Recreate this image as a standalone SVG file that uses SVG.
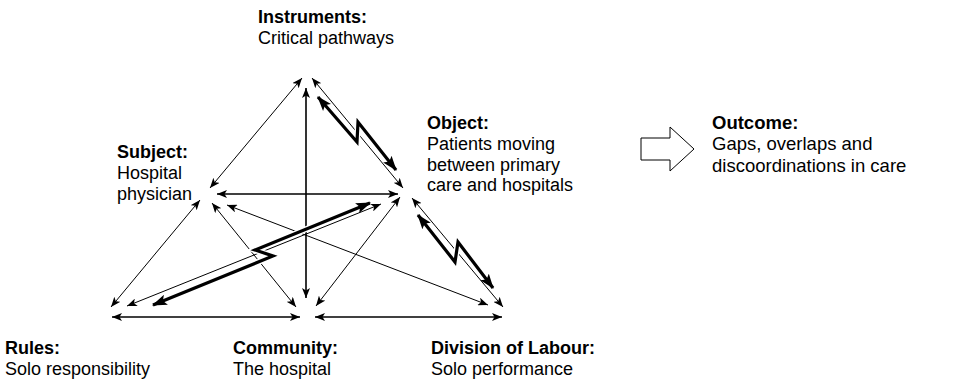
<svg xmlns="http://www.w3.org/2000/svg" width="957" height="384" viewBox="0 0 957 384">
  <style>
    text { font-family: "Liberation Sans", Arial, Helvetica, sans-serif; font-size: 18px; fill: #000; }
    .head { font-weight: bold; }
    .big { font-size: 18.5px; }
    .thin { stroke: #000; stroke-width: 1; fill: none; marker-start: url(#tip); marker-end: url(#tip); }
    .mid { stroke: #000; stroke-width: 1.6; fill: none; marker-start: url(#tip); marker-end: url(#tip); }
    .halo { stroke: #fff; stroke-width: 6; fill: none; stroke-linejoin: miter; }
    .bolt { stroke: #000; stroke-width: 3.2; fill: none; stroke-linejoin: miter; marker-start: url(#bigtip); marker-end: url(#bigtip); }
  </style>
  <defs>
    <marker id="tip" viewBox="0 0 10 8" refX="10" refY="4" markerWidth="10" markerHeight="8" markerUnits="userSpaceOnUse" orient="auto-start-reverse">
      <path d="M0,0 L10,4 L0,8 L2.5,4 z" fill="#000"/>
    </marker>
    <marker id="bigtip" viewBox="0 0 14 10" refX="13" refY="5" markerWidth="15" markerHeight="11" markerUnits="userSpaceOnUse" orient="auto-start-reverse">
      <path d="M0,0 L14,5 L0,10 L3,5 z" fill="#000"/>
    </marker>
  </defs>

  <!-- connectors of the activity system -->
  <g id="connectors">
    <!-- triangle edges -->
    <line class="thin" x1="210" y1="188" x2="302" y2="78"/>
    <line class="thin" x1="312" y1="78" x2="403" y2="188"/>
    <line class="mid" x1="306" y1="88" x2="306" y2="298"/>
    <line class="mid" x1="217" y1="194" x2="398" y2="194"/>
    <line class="thin" x1="200" y1="200" x2="111" y2="307"/>
    <line class="thin" x1="212" y1="203" x2="296" y2="307"/>
    <line class="thin" x1="227" y1="205" x2="488" y2="305"/>
    <line class="thin" x1="400" y1="197" x2="316" y2="306"/>
    <line class="thin" x1="412" y1="198" x2="503" y2="307"/>
    <line class="thin" x1="127" y1="306" x2="381" y2="204"/>
    <line class="mid" x1="112" y1="317" x2="300" y2="317"/>
    <line class="mid" x1="315" y1="317" x2="502" y2="317"/>

    <!-- contradictions (lightning arrows) -->
    <polyline class="halo" points="318,97 357,142 358,122 396,170"/>
    <polyline class="bolt" points="318,97 357,142 358,122 396,170"/>
    <polyline class="halo" points="418,215 455,262 458,242 493,288"/>
    <polyline class="bolt" points="418,215 455,262 458,242 493,288"/>
    <polyline class="halo" points="153,305 273,256 255,250 370,203"/>
    <polyline class="bolt" points="153,305 273,256 255,250 370,203"/>

    <!-- outcome block arrow -->
    <polygon points="641,138 670,138 670,127 694,149 670,171 670,160 641,160" fill="#fff" stroke="#000" stroke-width="1"/>
  </g>

  <g id="instruments">
    <text x="258" y="23"><tspan class="head">Instruments:</tspan><tspan x="258" dy="20.8">Critical pathways</tspan></text>
  </g>
  <g id="subject">
    <text x="117" y="158"><tspan class="head">Subject:</tspan><tspan x="117" dy="20.8">Hospital</tspan><tspan x="117" dy="20.8">physician</tspan></text>
  </g>
  <g id="object">
    <text x="427" y="129"><tspan class="head">Object:</tspan><tspan x="427" dy="20.8">Patients moving</tspan><tspan x="427" dy="20.8">between primary</tspan><tspan x="427" dy="20.8">care and hospitals</tspan></text>
  </g>
  <g id="outcome">
    <text class="big" x="712" y="129"><tspan class="head">Outcome:</tspan><tspan x="712" dy="21.4">Gaps, overlaps and</tspan><tspan x="712" dy="21.4">discoordinations in care</tspan></text>
  </g>
  <g id="rules">
    <text x="5" y="354"><tspan class="head">Rules:</tspan><tspan x="5" dy="20.8">Solo responsibility</tspan></text>
  </g>
  <g id="community">
    <text x="233" y="354"><tspan class="head">Community:</tspan><tspan x="233" dy="20.8">The hospital</tspan></text>
  </g>
  <g id="division">
    <text x="431" y="354"><tspan class="head">Division of Labour:</tspan><tspan x="431" dy="20.8">Solo performance</tspan></text>
  </g>
</svg>
